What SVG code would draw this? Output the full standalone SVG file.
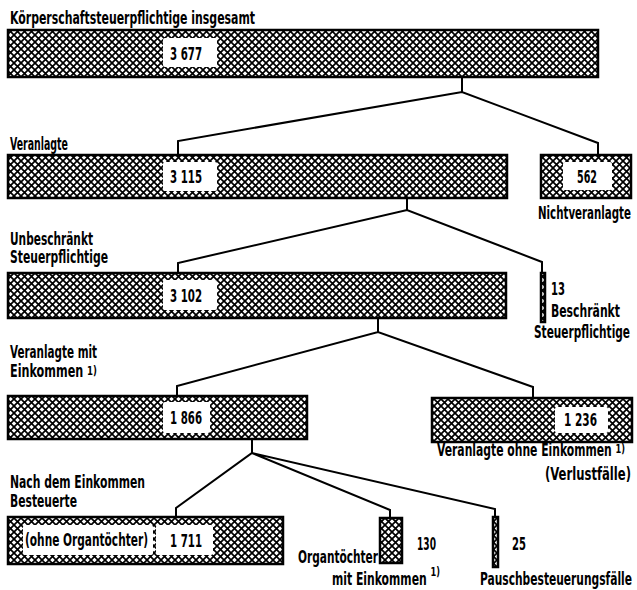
<svg xmlns="http://www.w3.org/2000/svg" width="637" height="590" viewBox="0 0 637 590">
<defs>
<pattern id="hatch" width="7" height="7" patternUnits="userSpaceOnUse">
<rect width="7" height="7" fill="#fff"/>
<path d="M-1,-1 L8,8 M8,-1 L-1,8" stroke="#000" stroke-width="1.7"/>
</pattern>
</defs>
<style>
.bar{fill:url(#hatch);stroke:#000;stroke-width:2.5}
.lbl{fill:#fff}
.c{fill:none;stroke:#000;stroke-width:2;stroke-linejoin:miter}
text{font-family:"Liberation Sans Narrow","DejaVu Sans Condensed","Liberation Sans",sans-serif;font-weight:bold;font-size:17px;fill:#000}
.num{font-size:18px}
.sup{font-size:13px}
</style>
<rect width="637" height="590" fill="#fff"/>

<g id="connectors">
<path class="c" d="M462,77 V92 M178,155 V141 L462,92 L598,143 V155"/>
<path class="c" d="M407,198 V210 M178,273 V263 L407,210 L542,262 V273"/>
<path class="c" d="M378,318 V332 M177,396 V386 L378,332 L533,387 V398"/>
<path class="c" d="M252,439 V453 M176,517 V508 L252,453 L390,510 V518 M252,453 L495,509 V517"/>
</g>

<g id="total">
<text x="10" y="24" textLength="245" lengthAdjust="spacingAndGlyphs">Körperschaftsteuerpflichtige insgesamt</text>
<rect class="bar" x="8" y="30" width="590" height="47"/>
<rect class="lbl" x="163" y="38" width="54" height="29" rx="2"/>
<text class="num" x="170" y="60" textLength="32" lengthAdjust="spacingAndGlyphs">3 677</text>
</g>

<g id="veranlagte">
<text x="10" y="150" textLength="58" lengthAdjust="spacingAndGlyphs">Veranlagte</text>
<rect class="bar" x="8" y="155" width="499" height="43"/>
<rect class="lbl" x="163" y="162" width="54" height="29" rx="2"/>
<text class="num" x="170" y="183" textLength="32" lengthAdjust="spacingAndGlyphs">3 115</text>
</g>

<g id="nichtveranlagte">
<rect class="bar" x="541" y="155" width="90" height="43"/>
<rect class="lbl" x="563" y="162" width="49" height="28" rx="2"/>
<text class="num" x="577" y="183" textLength="20" lengthAdjust="spacingAndGlyphs">562</text>
<text x="538" y="219" textLength="93" lengthAdjust="spacingAndGlyphs">Nichtveranlagte</text>
</g>

<g id="unbeschraenkt">
<text x="10" y="245" textLength="83" lengthAdjust="spacingAndGlyphs">Unbeschränkt</text>
<text x="10" y="263" textLength="98" lengthAdjust="spacingAndGlyphs">Steuerpflichtige</text>
<rect class="bar" x="8" y="273" width="498" height="45"/>
<rect class="lbl" x="163" y="280" width="54" height="30" rx="2"/>
<text class="num" x="170" y="302" textLength="32" lengthAdjust="spacingAndGlyphs">3 102</text>
</g>

<g id="beschraenkt">
<rect class="bar" x="541" y="273" width="4" height="49"/>
<text x="551" y="295" textLength="14" lengthAdjust="spacingAndGlyphs">13</text>
<text x="551" y="317" textLength="69" lengthAdjust="spacingAndGlyphs">Beschränkt</text>
<text x="534" y="338" textLength="96" lengthAdjust="spacingAndGlyphs">Steuerpflichtige</text>
</g>

<g id="mit-einkommen">
<text x="10" y="358" textLength="87" lengthAdjust="spacingAndGlyphs">Veranlagte mit</text>
<text x="10" y="377" textLength="87" lengthAdjust="spacingAndGlyphs">Einkommen <tspan class="sup" dy="-2">1)</tspan></text>
<rect class="bar" x="8" y="396" width="299" height="43"/>
<rect class="lbl" x="163" y="402" width="47" height="31" rx="2"/>
<text class="num" x="170" y="424" textLength="32" lengthAdjust="spacingAndGlyphs">1 866</text>
</g>

<g id="ohne-einkommen">
<rect class="bar" x="432" y="398" width="200" height="44"/>
<rect class="lbl" x="555" y="407" width="53" height="26" rx="2"/>
<text class="num" x="564" y="426" textLength="33" lengthAdjust="spacingAndGlyphs">1 236</text>
<text x="437" y="456" textLength="188" lengthAdjust="spacingAndGlyphs">Veranlagte ohne Einkommen <tspan class="sup" dy="-3">1)</tspan></text>
<text x="545" y="480" textLength="86" lengthAdjust="spacingAndGlyphs">(Verlustfälle)</text>
</g>

<g id="besteuerte">
<text x="10" y="488" textLength="135" lengthAdjust="spacingAndGlyphs">Nach dem Einkommen</text>
<text x="10" y="507" textLength="67" lengthAdjust="spacingAndGlyphs">Besteuerte</text>
<rect class="bar" x="8" y="517" width="275" height="47"/>
<rect class="lbl" x="23" y="525" width="130" height="30" rx="2"/>
<rect class="lbl" x="156" y="525" width="57" height="30" rx="2"/>
<text x="25" y="546" textLength="123" lengthAdjust="spacingAndGlyphs">(ohne Organtöchter)</text>
<text class="num" x="170" y="547" textLength="32" lengthAdjust="spacingAndGlyphs">1 711</text>
</g>

<g id="organtoechter">
<rect class="bar" x="380" y="518" width="22" height="45"/>
<text x="417" y="550" textLength="19" lengthAdjust="spacingAndGlyphs">130</text>
<text x="298" y="563" textLength="80" lengthAdjust="spacingAndGlyphs">Organtöchter</text>
<text x="332" y="585" textLength="108" lengthAdjust="spacingAndGlyphs">mit Einkommen <tspan class="sup" dy="-9">1)</tspan></text>
</g>

<g id="pauschbesteuerung">
<rect class="bar" x="493" y="517" width="5" height="50"/>
<text x="512" y="550" textLength="14" lengthAdjust="spacingAndGlyphs">25</text>
<text x="480" y="585" textLength="152" lengthAdjust="spacingAndGlyphs">Pauschbesteuerungsfälle</text>
</g>
</svg>
